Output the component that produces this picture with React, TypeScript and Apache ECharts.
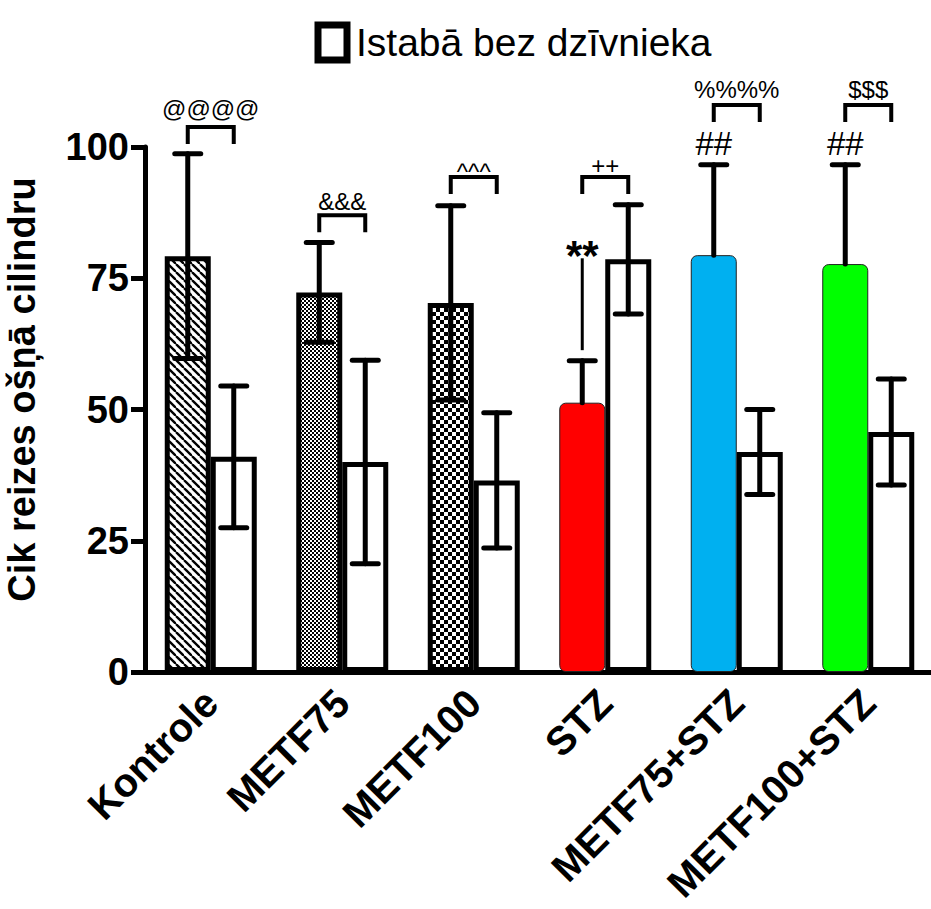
import React, { useEffect, useRef } from 'react';
import * as echarts from 'echarts';

// ---------- data ----------
const categories = ['Kontrole', 'METF75', 'METF100', 'STZ', 'METF75+STZ', 'METF100+STZ'];
const treatedMean = [79.2, 72.3, 70.3, 51.3, 79.4, 77.7];
const treatedSD = [19.5, 9.5, 18.5, 8.0, 17.2, 18.9];
const emptyMean = [41.0, 40.0, 36.5, 78.6, 41.9, 45.7];
const emptySD = [13.5, 19.4, 12.9, 10.4, 8.1, 10.1];
const yTicks = [0, 25, 50, 75, 100];
const legendLabel = 'Istabā bez dzīvnieka';
const treatedLabel = 'Istabā ar dzīvnieku';
const yAxisTitle = 'Cik reizes ošņā cilindru';

// significance brackets (treated vs empty room within a group)
const bracketGroups = [0, 1, 2, 3, 4, 5];
const bracketTops = [103.8, 87.0, 94.3, 94.3, 108.0, 108.0];
const bracketTexts = ['@@@@', '&&&', '^^^', '++', '%%%%', '$$$'];
const bracketTextY = [107.4, 89.7, 95.4, 96.4, 110.9, 110.9];

// marks above treated bars
const markGroups = [3, 4, 5];
const markTexts = ['**', '##', '##'];
const markY = [79.4, 100.7, 100.7];
const markSizes = [42, 33, 33];
const connectorGroup = 3;
const connectorRange = [78.8, 61.3];

// ---------- styles ----------
const FONT = '"Liberation Sans", Arial, Helvetica, sans-serif';
const BAR_W = 46;
const CAP = 13;

function makePattern(kind: string) {
  const c = document.createElement('canvas');
  let s = 8;
  if (kind === 'fine') s = 4;
  c.width = s;
  c.height = s;
  const ctx = c.getContext('2d')!;
  ctx.fillStyle = '#fff';
  ctx.fillRect(0, 0, s, s);
  ctx.fillStyle = '#000';
  ctx.strokeStyle = '#000';
  if (kind === 'hatch') {
    ctx.lineWidth = 2.3;
    for (const o of [-s, 0, s]) {
      ctx.beginPath();
      ctx.moveTo(o, 0);
      ctx.lineTo(o + s, s);
      ctx.stroke();
    }
  } else if (kind === 'fine') {
    ctx.fillRect(0, 0, 2, 2);
    ctx.fillRect(2, 2, 2, 2);
  } else {
    ctx.fillRect(0, 0, 4, 4);
    ctx.fillRect(4, 4, 4, 4);
  }
  return { image: c.toDataURL(), repeat: 'repeat', imageWidth: s, imageHeight: s } as any;
}

export default function App() {
  const ref = useRef<HTMLDivElement>(null);

  useEffect(() => {
    document.body.style.margin = '0';
    if (!ref.current) return;
    const chart = echarts.init(ref.current, undefined, { renderer: 'svg' });

    const patterns = [makePattern('hatch'), makePattern('fine'), makePattern('coarse')];
    const solidColors = ['#ff0000', '#00b0f0', '#00ff00'];

    const treatedData = treatedMean.map((v, i) => {
      if (i < 3) {
        return {
          value: v,
          itemStyle: { color: patterns[i], borderColor: '#000', borderWidth: 5 },
        };
      }
      return {
        value: v,
        itemStyle: {
          color: solidColors[i - 3],
          borderColor: '#222',
          borderWidth: 1,
          borderRadius: 6,
        },
      };
    });

    const errData: number[][] = [];
    treatedMean.forEach((m, i) => errData.push([i, m, treatedSD[i], -1, i < 3 ? 1 : 0]));
    emptyMean.forEach((m, i) => errData.push([i, m, emptySD[i], 1, 1]));

    const lineStyle = { stroke: '#000', lineWidth: 5, lineCap: 'round' };

    const option: any = {
      animation: false,
      backgroundColor: '#fff',
      legend: {
        data: [legendLabel],
        left: 309.5,
        top: 16.5,
        itemWidth: 29,
        itemHeight: 35,
        icon: 'rect',
        selectedMode: false,
        itemStyle: { color: '#fff', borderColor: '#000', borderWidth: 7 },
        textStyle: { fontSize: 39, color: '#000', fontFamily: FONT, padding: [0, 0, 0, 4] },
      },
      grid: { left: 145, top: 147, width: 789, bottom: 237, containLabel: false, outerBoundsMode: 'none' },
      xAxis: {
        type: 'category',
        data: categories,
        axisLine: { lineStyle: { color: '#000', width: 5 } },
        axisTick: { alignWithLabel: true, length: 14, lineStyle: { color: '#000', width: 5 } },
        axisLabel: {
          interval: 0,
          rotate: 45,
          fontSize: 40,
          fontWeight: 'bold',
          color: '#000',
          fontFamily: FONT,
          margin: 24,
        },
      },
      yAxis: {
        type: 'value',
        min: yTicks[0],
        max: yTicks[yTicks.length - 1],
        interval: yTicks[1] - yTicks[0],
        name: yAxisTitle,
        nameLocation: 'middle',
        nameGap: 104,
        nameTextStyle: {
          fontSize: 38,
          fontWeight: 'bold',
          color: '#000',
          fontFamily: FONT,
          padding: [0, 0, 0, 40],
        },
        axisLine: { show: true, lineStyle: { color: '#000', width: 5 } },
        axisTick: { show: true, length: 14, lineStyle: { color: '#000', width: 5 } },
        splitLine: { show: false },
        axisLabel: {
          fontSize: 38,
          fontWeight: 'bold',
          color: '#000',
          fontFamily: FONT,
          margin: 16,
        },
      },
      series: [
        {
          name: treatedLabel,
          type: 'bar',
          barWidth: BAR_W,
          barGap: '0%',
          data: treatedData,
        },
        {
          name: legendLabel,
          type: 'bar',
          barWidth: BAR_W,
          barGap: '0%',
          itemStyle: { color: '#fff', borderColor: '#000', borderWidth: 5 },
          data: emptyMean,
        },
        {
          type: 'custom',
          name: 'err',
          z: 5,
          clip: false,
          encode: { x: 0, y: 1 },
          data: errData,
          renderItem: (params: any, api: any) => {
            const cat = api.value(0);
            const m = api.value(1);
            const sd = api.value(2);
            const side = api.value(3);
            const low = api.value(4);
            const c = api.coord([cat, m]);
            const t = api.coord([cat, m + sd]);
            const b = api.coord([cat, m - sd]);
            const x = c[0] + (side * BAR_W) / 2;
            const children: any[] = [
              { type: 'line', shape: { x1: x, y1: t[1], x2: x, y2: low ? b[1] : c[1] }, style: lineStyle },
              { type: 'line', shape: { x1: x - CAP, y1: t[1], x2: x + CAP, y2: t[1] }, style: lineStyle },
            ];
            if (low) {
              children.push({ type: 'line', shape: { x1: x - CAP, y1: b[1], x2: x + CAP, y2: b[1] }, style: lineStyle });
            }
            return { type: 'group', children };
          },
        },
        {
          type: 'custom',
          name: 'brackets',
          z: 6,
          clip: false,
          encode: { x: 0, y: 1 },
          data: bracketGroups.map((g, i) => [g, bracketTops[i], bracketTextY[i]]),
          renderItem: (params: any, api: any) => {
            const g = api.value(0);
            const c = api.coord([g, api.value(1)]);
            const ty = api.coord([g, api.value(2)])[1];
            const xl = c[0] - BAR_W / 2;
            const xr = c[0] + BAR_W / 2;
            return {
              type: 'group',
              children: [
                {
                  type: 'polyline',
                  shape: { points: [[xl, c[1] + 17], [xl, c[1]], [xr, c[1]], [xr, c[1] + 17]] },
                  style: { stroke: '#000', lineWidth: 4, fill: null },
                },
                {
                  type: 'text',
                  x: c[0],
                  y: ty,
                  style: {
                    text: bracketTexts[params.dataIndex],
                    fontSize: 24,
                    fontFamily: FONT,
                    fill: '#000',
                    align: 'center',
                    verticalAlign: 'middle',
                  },
                },
              ],
            };
          },
        },
        {
          type: 'custom',
          name: 'marks',
          z: 6,
          clip: false,
          encode: { x: 0, y: 1 },
          data: markGroups.map((g, i) => [g, markY[i]]),
          renderItem: (params: any, api: any) => {
            const c = api.coord([api.value(0), api.value(1)]);
            return {
              type: 'text',
              x: c[0] - BAR_W / 2,
              y: c[1],
              style: {
                text: markTexts[params.dataIndex],
                fontSize: markSizes[params.dataIndex],
                fontWeight: params.dataIndex === 0 ? 'bold' : 'normal',
                fontFamily: FONT,
                fill: '#000',
                align: 'center',
                verticalAlign: 'middle',
              },
            };
          },
        },
        {
          type: 'custom',
          name: 'connector',
          z: 6,
          clip: false,
          encode: { x: 0, y: 1 },
          data: [[connectorGroup, connectorRange[0], connectorRange[1]]],
          renderItem: (params: any, api: any) => {
            const a = api.coord([api.value(0), api.value(1)]);
            const b = api.coord([api.value(0), api.value(2)]);
            const x = a[0] - BAR_W / 2;
            return {
              type: 'line',
              shape: { x1: x, y1: a[1], x2: x, y2: b[1] },
              style: { stroke: '#000', lineWidth: 3 },
            };
          },
        },
      ],
    };

    chart.setOption(option);
    return () => chart.dispose();
  }, []);

  return <div ref={ref} style={{ width: 931, height: 909 }} />;
}
